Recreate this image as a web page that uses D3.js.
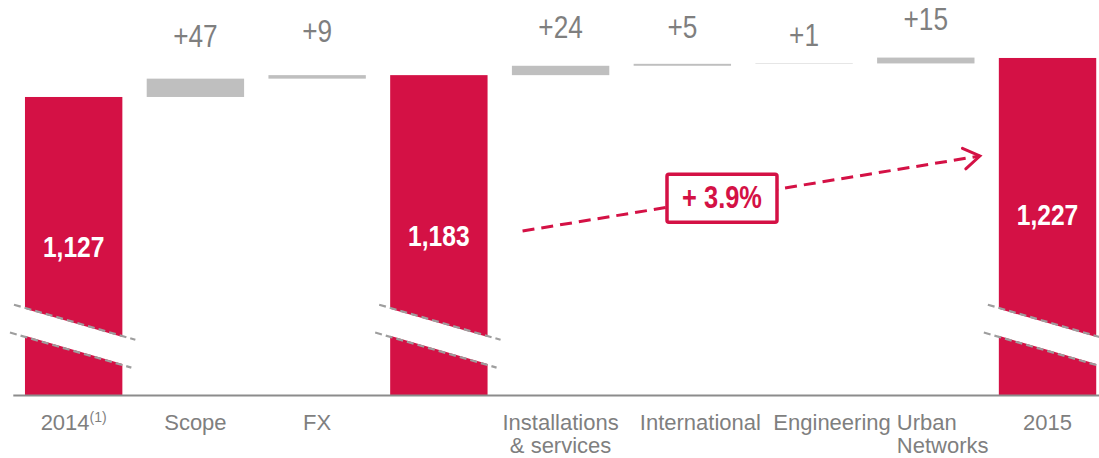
<!DOCTYPE html>
<html>
<head>
<meta charset="utf-8">
<script src="https://cdn.jsdelivr.net/npm/d3@7"></script>
<style>
  html, body { margin: 0; padding: 0; background: #ffffff; }
  svg { display: block; }
</style>
</head>
<body>
<svg id="chart" width="1099" height="458"></svg>
<script>
// ---- data ----
const categoryLines = [["2014"], ["Scope"], ["FX"], [], ["Installations", "& services"], ["International"], ["Engineering"], ["Urban", "Networks"], ["2015"]];
const categoryNotes = ["(1)", "", "", "", "", "", "", "", ""];
const barTypes = ["total", "delta", "delta", "total", "delta", "delta", "delta", "delta", "total"];
const values = [1127, 47, 9, 1183, 24, 5, 1, 15, 1227];
const growthLabel = "+ 3.9%";

// ---- layout / style ----
const RED = "#D41145", GREY_BAR = "#BFBFBF", TEXT_GREY = "#7F7F7F";
const FONT = "'Liberation Sans', Arial, sans-serif";
const NARROW_SCALE = 0.82;
const deltaLabelGap = [32, 33, 28, 26, 17, 28];
const totalLabelShift = [0, 0, -12];
const categoryLabelShift = [0, 0, 0, 0, 0, 18, 28, -29, 0];
const categoryAnchor = ["middle", "middle", "middle", "middle", "middle", "middle", "middle", "start", "middle"];

const svg = d3.select("#chart");

// waterfall computation
let running = 0;
const bars = values.map((v, i) => {
  let start, end;
  if (barTypes[i] === "total") { start = null; end = v; running = v; }
  else { start = running; end = running + v; running = end; }
  return { i, type: barTypes[i], value: v, start, end };
});

const x = d3.scaleBand().domain(d3.range(values.length)).range([12.8, 1108.4]).paddingInner(0.2).paddingOuter(0.1);
const baseY = 395;
const y = d3.scaleLinear().domain([363, 1250]).range([baseY, 49]);
const bw = x.bandwidth();

// narrow text helper (horizontally condensed)
function narrowText(g, cx, cy, txt, size, weight, fill) {
  return g.append("text")
    .attr("transform", `translate(${cx},${cy}) scale(${NARROW_SCALE},1)`)
    .attr("text-anchor", "middle")
    .attr("font-family", FONT).attr("font-weight", weight).attr("font-size", size)
    .attr("fill", fill)
    .text(txt);
}

// bars
svg.append("g").selectAll("rect").data(bars).join("rect")
  .attr("x", d => x(d.i))
  .attr("width", bw)
  .attr("y", d => y(d.end))
  .attr("height", d => d.type === "total" ? baseY - y(d.end) : y(d.start) - y(d.end))
  .attr("fill", d => d.type === "total" ? RED : GREY_BAR);

// axis baseline
const axis = svg.append("g").attr("transform", `translate(0,${baseY})`)
  .call(d3.axisBottom(x).tickSize(0).tickFormat(""));
axis.select(".domain").attr("stroke", "#8C8C8C").attr("stroke-width", 2);

// break marks on total bars
const k = 0.289, bandGap = 29, upperY0 = 305;
const breakG = svg.append("g");
bars.filter(d => d.type === "total").forEach(d => {
  const bx = x(d.i);
  const yu = xx => upperY0 + k * (xx - (bx - 10));
  const yl = xx => yu(xx) + bandGap;
  const L = bx - 1, R = bx + bw + 1;
  breakG.append("polygon")
    .attr("points", [[L, yu(L) + 1], [R, yu(R) + 1], [R, yl(R) - 1], [L, yl(L) - 1]].map(p => p.join(",")).join(" "))
    .attr("fill", "#ffffff");
  breakG.append("line")
    .attr("x1", bx - 11).attr("y1", yu(bx - 11))
    .attr("x2", bx + bw + 13).attr("y2", yu(bx + bw + 13))
    .attr("stroke", "#9E9E9E").attr("stroke-width", 2.2).attr("stroke-dasharray", "7,4");
  breakG.append("line")
    .attr("x1", bx - 15).attr("y1", yl(bx - 15))
    .attr("x2", bx + bw + 9).attr("y2", yl(bx + bw + 9))
    .attr("stroke", "#9E9E9E").attr("stroke-width", 2.2).attr("stroke-dasharray", "7,4");
});

// total value labels
const fmt = d3.format(",");
const labelG = svg.append("g");
bars.filter(d => d.type === "total").forEach((d, j) => {
  narrowText(labelG, x(d.i) + bw / 2, (y(d.end) + baseY) / 2 + 11 + totalLabelShift[j],
    fmt(d.value), 30, "bold", "#ffffff");
});

// delta labels
bars.filter(d => d.type === "delta").forEach((d, j) => {
  narrowText(labelG, x(d.i) + bw / 2, y(d.end) - deltaLabelGap[j], "+" + d.value, 32, "normal", TEXT_GREY);
});

// category labels
categoryLines.forEach((lines, i) => {
  const cx = x(i) + bw / 2 + categoryLabelShift[i];
  const t = svg.append("text")
    .attr("x", cx)
    .attr("y", baseY + 35)
    .attr("text-anchor", categoryAnchor[i])
    .attr("font-family", FONT).attr("font-size", 22)
    .attr("fill", TEXT_GREY);
  lines.forEach((ln, li) => {
    t.append("tspan").attr("x", cx).attr("dy", li === 0 ? 0 : 23).text(ln);
  });
  if (categoryNotes[i]) {
    t.append("tspan").attr("font-size", 14).attr("dy", -8).text(categoryNotes[i]);
  }
});

// growth arrow
const ax1 = x(3) + bw + 35, ay1 = 231;
const ax2 = x(8) - 19, ay2 = 156;
svg.append("line")
  .attr("x1", ax1).attr("y1", ay1).attr("x2", ax2).attr("y2", ay2)
  .attr("stroke", RED).attr("stroke-width", 3).attr("stroke-dasharray", "12,7");
const ang = Math.atan2(ay2 - ay1, ax2 - ax1);
const headLen = 19, headAng = 33 * Math.PI / 180;
const hp = s => [ax2 - headLen * Math.cos(ang + s * headAng), ay2 - headLen * Math.sin(ang + s * headAng)];
svg.append("path")
  .attr("d", d3.line()([hp(1), [ax2, ay2], hp(-1)]))
  .attr("fill", "none").attr("stroke", RED).attr("stroke-width", 3)
  .attr("stroke-linejoin", "miter").attr("stroke-linecap", "round");

// growth box
const bcx = 722, bcy = ay1 + (bcx - ax1) * (ay2 - ay1) / (ax2 - ax1);
svg.append("rect")
  .attr("x", bcx - 55).attr("y", bcy - 24).attr("width", 110).attr("height", 48)
  .attr("rx", 2).attr("fill", "#ffffff").attr("stroke", RED).attr("stroke-width", 3.5);
narrowText(svg, bcx, bcy + 10, growthLabel, 31, "bold", RED);
</script>
</body>
</html>
